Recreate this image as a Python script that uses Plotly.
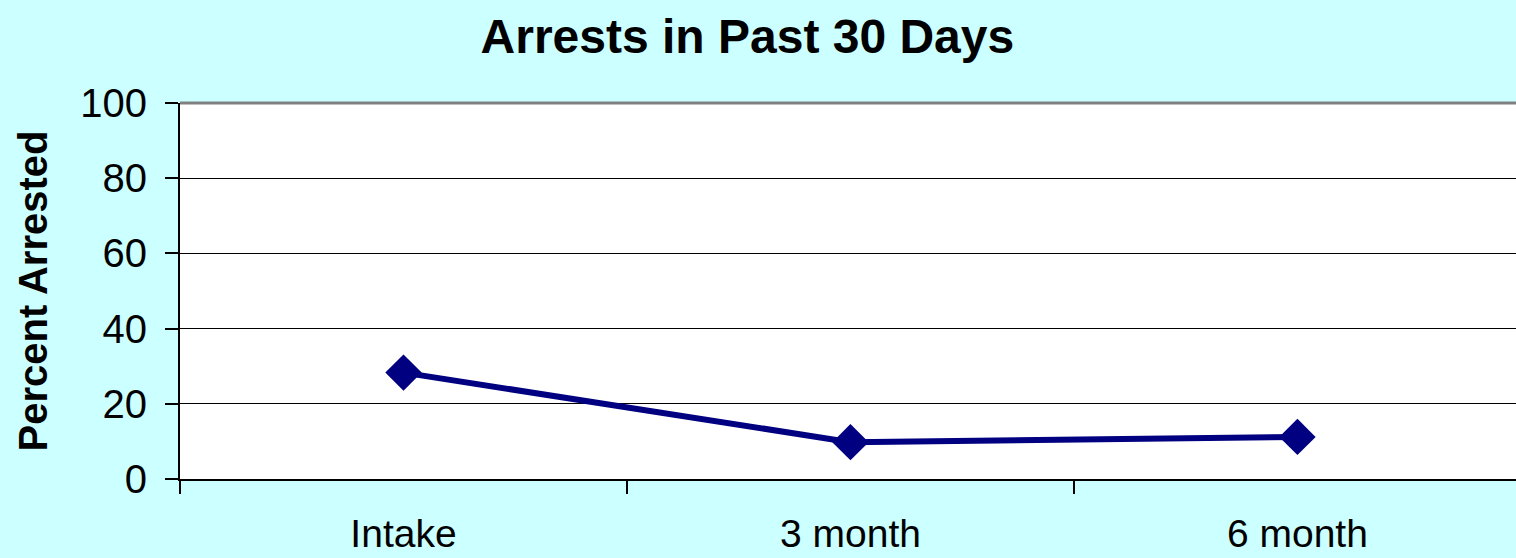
import plotly.graph_objects as go

categories = ["Intake", "3 month", "6 month"]
percent_arrested = [28.3, 9.8, 11.2]
y_ticks = [0, 20, 40, 60, 80, 100]

FONT = "Arial, 'Liberation Sans', sans-serif"
NAVY = "#000080"

fig = go.Figure()
fig.add_trace(go.Scatter(
    x=categories, y=percent_arrested, mode="lines+markers",
    line=dict(color=NAVY, width=6),
    marker=dict(symbol="diamond", size=28, color=NAVY),
    showlegend=False, hoverinfo="x+y",
))

fig.update_layout(
    width=1516, height=558,
    paper_bgcolor="#CCFFFF", plot_bgcolor="#FFFFFF",
    margin=dict(l=180, r=0, t=103, b=79),
    font=dict(family=FONT, color="#000000"),
    title=dict(text="<b>Arrests in Past 30 Days</b>", x=0.493, xanchor="center",
               y=1 - 36 / 558, yanchor="middle", font=dict(size=48, family=FONT)),
    xaxis=dict(
        type="category", range=[-0.5, 2.489], tickson="boundaries",
        ticks="outside", ticklen=13, tickwidth=2, tickcolor="#000000",
        showline=True, linecolor="#000000", linewidth=2,
        showgrid=False, tickfont=dict(size=39), ticklabelstandoff=19,
        zeroline=False, automargin=False,
    ),
    yaxis=dict(
        range=[0, 100], tickvals=y_ticks, ticks="outside", ticklen=13, tickwidth=2,
        tickcolor="#000000", showline=True, linecolor="#000000", linewidth=2,
        showgrid=True, gridcolor="#000000", gridwidth=1, zeroline=False,
        tickfont=dict(size=40), ticklabelstandoff=10,
        title=dict(text="<b>Percent Arrested</b>", font=dict(size=40), standoff=20),
    ),
    shapes=[dict(type="line", xref="paper", yref="paper", x0=0, x1=1, y0=1, y1=1,
                 line=dict(color="#808080", width=3))],
)

fig.write_html("out.html")
